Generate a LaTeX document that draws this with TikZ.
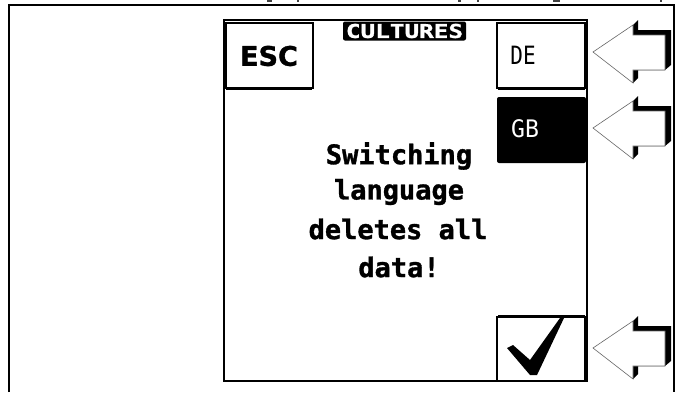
\documentclass[tikz,border=0pt]{standalone}
\usepackage{fontspec}
\newfontfamily\lcdfont{DejaVu Sans Mono}
\newfontfamily\lcdheavy{DejaVu Sans Mono Bold}[FakeBold=1.2]
\newfontfamily\escfont{DejaVu Sans Bold}[FakeBold=1.2]
\tikzset{
  px/.style={x=1pt,y=-1pt},
  frameline/.style={draw=black,line width=2pt},
  buttonbox/.style={draw=black,line width=1.2pt},
  heavyline/.style={draw=black,line width=2pt},
  screentext/.style={font=\lcdheavy\fontsize{27}{27}\selectfont,text=black,inner sep=0pt,anchor=center},
  smalllabel/.style={font=\lcdfont\fontsize{21}{21}\selectfont,inner sep=0pt,anchor=center},
  arrowbody/.style={fill=white,draw=black!60,line width=0.6pt,line join=miter},
  arrowshadow/.style={fill=black,draw=none},
  clipmark/.style={fill=black!75,draw=none}
}
\begin{document}
\begin{tikzpicture}[px]
\useasboundingbox (0,0) rectangle (682,392);
\fill[white] (0,0) rectangle (682,392);
% clipped descenders at the top edge
\foreach \xa/\xb in {267/272,297/298.5,458/461,477/479,553/560,660/662}{
  \fill[clipmark] (\xa,0) rectangle (\xb,1.5);
}
% outer frame (open at bottom)
\coordinate (ob1) at (9,392);
\coordinate (ot1) at (9,5);
\coordinate (ot2) at (674,5);
\coordinate (ob2) at (674,392);
\draw[frameline] (ob1) -- (ot1) -- (ot2) -- (ob2);
% screen
\draw[frameline,line width=1.8pt] (224,20) rectangle (587,381);
% ESC
\draw[buttonbox] (226,23) rectangle (313,88);
\draw[heavyline] (226,23) -- (312,23) (226,88.5) -- (312,88.5) (313,23) -- (313,88);
\node[inner sep=0pt,font=\escfont\fontsize{27}{27}\selectfont] (esc) at (269,56) {ESC};
% CULTURES
\node[fill=black,text=white,rounded corners=2pt,minimum width=123pt,minimum height=19pt,inner sep=0pt,font=\lcdheavy\fontsize{19}{19}\selectfont] (title) at (404.5,31) {\scalebox{1.28}[1]{CULTURES}};
% DE
\draw[buttonbox] (497,23) rectangle (585,88);
\draw[heavyline] (498,23) -- (585,23) (498,89) -- (585,89);
\node[smalllabel] (de) at (523,55) {\scalebox{1}[1.2]{DE}};
% GB
\fill[black,rounded corners=2pt] (497,97) rectangle (586,163);
\node[smalllabel,text=white] (gb) at (525,129) {\scalebox{1.1}[1.15]{GB}};
% check button
\draw[buttonbox] (497,317) rectangle (585,381);
\draw[heavyline] (498,316) -- (585,316);
\fill[black] (507,348) -- (513,345) -- (530,360) -- (560,318) -- (564,318) -- (537,375) -- (530,375) -- cycle;
% screen message
\node[screentext] (m1) at (399,156) {Switching};
\node[screentext] (m2) at (399,192) {language};
\node[screentext] (m3) at (398,229) {deletes all};
\node[screentext] (m4) at (399,267) {data!};
% arrows
\foreach \yo in {0,76,296}{
  \begin{scope}[yshift=-\yo pt]
    \fill[arrowshadow] (638,20) -- (638,30) -- (671,30) -- (671,65) -- (665,70) -- (638,70) -- (638,78) -- (633,83) -- (633,25) -- cycle;
    \draw[arrowbody] (593,52) -- (633,25) -- (633,35) -- (665,35) -- (665,70) -- (633,70) -- (633,83) -- cycle;
  \end{scope}
}
\end{tikzpicture}
\end{document}
